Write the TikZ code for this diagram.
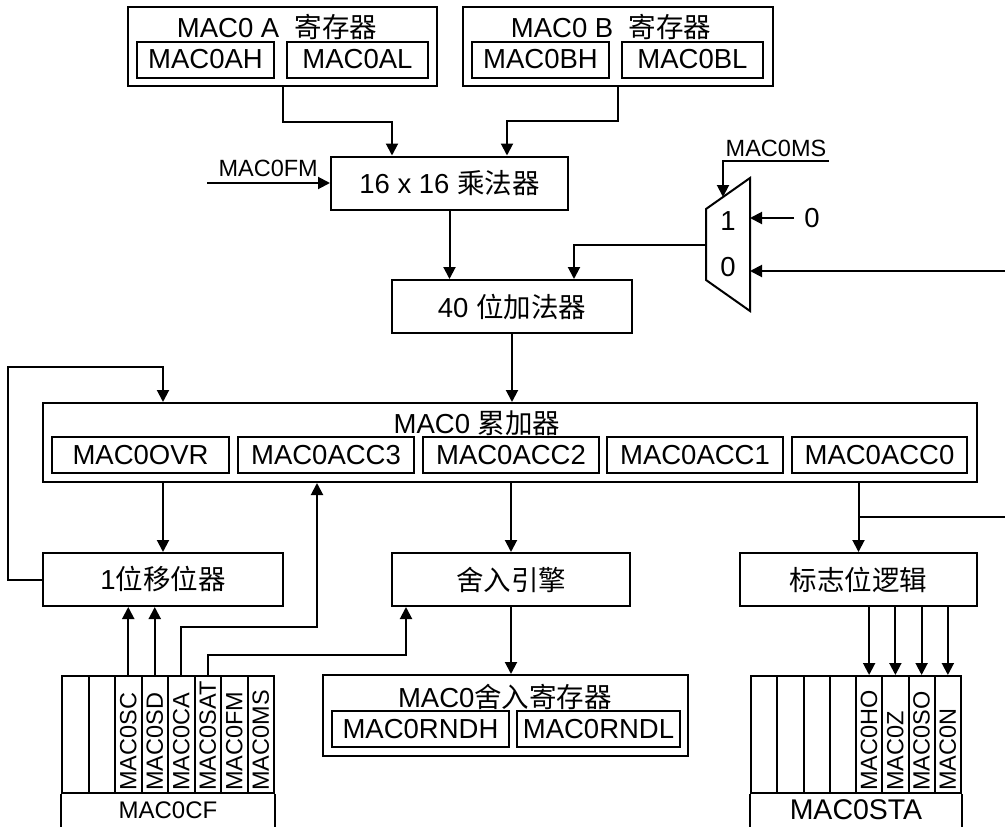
\documentclass[tikz,border=0pt]{standalone}
\usepackage{fontspec}
\setmainfont{Liberation Sans}
\newfontfamily\cjk{Noto Sans CJK SC}
\usepackage{tikz}
\usetikzlibrary{arrows.meta,calc}
\newcommand{\zh}[1]{{\cjk #1}}
\newcommand{\bigtxt}{\fontsize{27.5}{31}\selectfont}
\newcommand{\smalltxt}{\fontsize{23.5}{27}\selectfont}

\begin{document}
\begin{tikzpicture}[x=1pt, y=-1pt,
    blk/.style={draw, line width=2pt, inner sep=0pt, minimum height=53, font=\bigtxt},
    reg/.style={draw, line width=2pt, inner sep=0pt, minimum height=36, font=\bigtxt},
    bitcell/.style={draw, line width=2pt, inner sep=0pt, minimum width=26.5, minimum height=117},
    lab/.style={inner sep=0pt, font=\smalltxt},
    arr/.style={line width=2pt, -{Triangle[length=12pt,width=12pt]}},
    wire/.style={line width=2pt}]
    \useasboundingbox (0,0) rectangle (1005,827);

    % Operand registers
    \node[blk, minimum width=309, minimum height=79] (areg) at (282.5,46.5) {};
    \node[inner sep=0pt, font=\bigtxt] (atitle) at (277,27) {MAC0 A\ \ \zh{寄存器}};
    \node[reg, minimum width=137] (ah) at (205.5,59.5) {MAC0AH};
    \node[reg, minimum width=141] (al) at (357.5,59.5) {MAC0AL};
    \node[blk, minimum width=310, minimum height=79] (breg) at (618,46.5) {};
    \node[inner sep=0pt, font=\bigtxt] (btitle) at (611,27) {MAC0 B\ \ \zh{寄存器}};
    \node[reg, minimum width=137] (bh) at (540.5,59.5) {MAC0BH};
    \node[reg, minimum width=141] (bl) at (692.5,59.5) {MAC0BL};

    % Multiplier and adder
    \node[blk, minimum width=237] (mul) at (449.5,183) {16 x 16 \zh{乘法器}};
    \node[blk, minimum width=240] (add) at (512,306.5) {40 \zh{位加法器}};

    % Accumulator
    \node[blk, minimum width=934, minimum height=79] (acc) at (510,442.5) {};
    \node[inner sep=0pt, font=\bigtxt] (acctitle) at (477,423) {MAC0 \zh{累加器}};
    \node[reg, minimum width=177] (ovr) at (140.5,455) {MAC0OVR};
    \node[reg, minimum width=176] (acc3) at (326,455) {MAC0ACC3};
    \node[reg, minimum width=176] (acc2) at (511,455) {MAC0ACC2};
    \node[reg, minimum width=176] (acc1) at (695,455) {MAC0ACC1};
    \node[reg, minimum width=175] (acc0) at (879.5,455) {MAC0ACC0};

    % Shifter, rounding, flags
    \node[blk, minimum width=240] (shift) at (163,579.5) {1\zh{位移位器}};
    \node[blk, minimum width=238] (round) at (511,579.5) {\zh{舍入引擎}};
    \node[blk, minimum width=237] (flag) at (858.5,579.5) {\zh{标志位逻辑}};

    % Rounding register
    \node[blk, minimum width=365, minimum height=81] (rreg) at (505.5,715.5) {};
    \node[inner sep=0pt, font=\bigtxt] (rtitle) at (505,697) {MAC0\zh{舍入寄存器}};
    \node[reg, minimum width=177] (rndh) at (420.5,729) {MAC0RNDH};
    \node[reg, minimum width=163] (rndl) at (598.5,729) {MAC0RNDL};

    % MAC0CF and MAC0STA bits
    \foreach \t [count=\i] in {,,MAC0SC,MAC0SD,MAC0CA,MAC0SAT,MAC0FM,MAC0MS} {
        \node[bitcell] (cf\i) at ({62+26.5*\i-13.25},734.5) {};
        \node[lab, rotate=90, anchor=west] at ($(cf\i.south)+(0,-3)$) {\t};
    }
    \draw[wire] (cf1.south west) -- ++(0,40);
    \draw[wire] (cf8.south east) -- ++(0,40);
    \node[inner sep=0pt, font=\fontsize{24}{28}\selectfont] (cfname) at (168,810) {MAC0CF};
    \foreach \t [count=\i] in {,,,,MAC0HO,MAC0Z,MAC0SO,MAC0N} {
        \node[bitcell, minimum width=26.25] (sta\i) at ({751+26.25*\i-13.125},734.5) {};
        \node[lab, rotate=90, anchor=west] at ($(sta\i.south)+(0,-3)$) {\t};
    }
    \draw[wire] (sta1.south west) -- ++(0,40);
    \draw[wire] (sta8.south east) -- ++(0,40);
    \node[inner sep=0pt, font=\fontsize{28.5}{32}\selectfont] (staname) at (856,810) {MAC0STA};

    % Mux
    \draw[wire] (706,209) -- (750,178) -- (750,311) -- (706,280) -- cycle;
    \coordinate (muxa) at (750,218);
    \coordinate (muxb) at (750,271);
    \coordinate (muxo) at (706,245);
    \coordinate (muxs) at (723,197);
    \node[inner sep=0pt, font=\bigtxt] (m1) at (728,221) {1};
    \node[inner sep=0pt, font=\bigtxt] (m0) at (728,267) {0};
    \node[inner sep=0pt, font=\bigtxt] (zero) at (812,218) {0};
    \coordinate (fbin) at (1005,271);
    \coordinate (msin) at (829,161);
    \node[lab, anchor=south] (mslab) at (776,157) {MAC0MS};
    \coordinate (fmin) at (207,183);
    \node[lab, anchor=south east] (fmlab) at (318,177) {MAC0FM};
    \coordinate (fbout) at (1005,517);

    % Connectors
    \draw[arr] (areg.south) -- ++(0,35) -| ($(mul.north)+(-57.5,0)$);
    \draw[arr] (breg.south) -- ++(0,34) -| ($(mul.north)+(57.5,0)$);
    \draw[arr] (fmin) -- (mul.west);
    \draw[arr] (mul.south) -- (mul.south |- add.north);
    \draw[arr] ($(zero.west)+(-10,0)$) -- (muxa);
    \draw[arr] (fbin) -- (muxb);
    \draw[arr] (msin) -| (muxs);
    \draw[arr] (muxo) -| ($(add.north)+(62,0)$);
    \draw[arr] (add.south) -- (add.south |- acc.north);
    \draw[arr] (shift.west) -- ++(-34,0) |- ($(acc.north -| shift.north)+(0,-35)$) -- (acc.north -| shift.north);
    \draw[arr] (acc.south -| shift.north) -- (shift.north);
    \draw[arr] (acc.south -| round.north) -- (round.north);
    \draw[arr] (acc.south -| flag.north) -- (flag.north);
    \draw[wire] (fbout) -- (fbout -| flag.north);
    \draw[arr] (round.south) -- (round.south |- rreg.north);
    \draw[arr] (cf3.north) -- (cf3.north |- shift.south);
    \draw[arr] (cf4.north) -- (cf4.north |- shift.south);
    \draw[arr] (cf5.north) -- ++(0,-48) -| ($(acc.south -| acc3.south)+(-9,0)$);
    \draw[arr] (cf6.north) -- ++(0,-20) -| ($(round.south)+(-105,0)$);
    \foreach \i in {5,...,8} \draw[arr] (flag.south -| sta\i.north) -- (sta\i.north);
\end{tikzpicture}
\end{document}
